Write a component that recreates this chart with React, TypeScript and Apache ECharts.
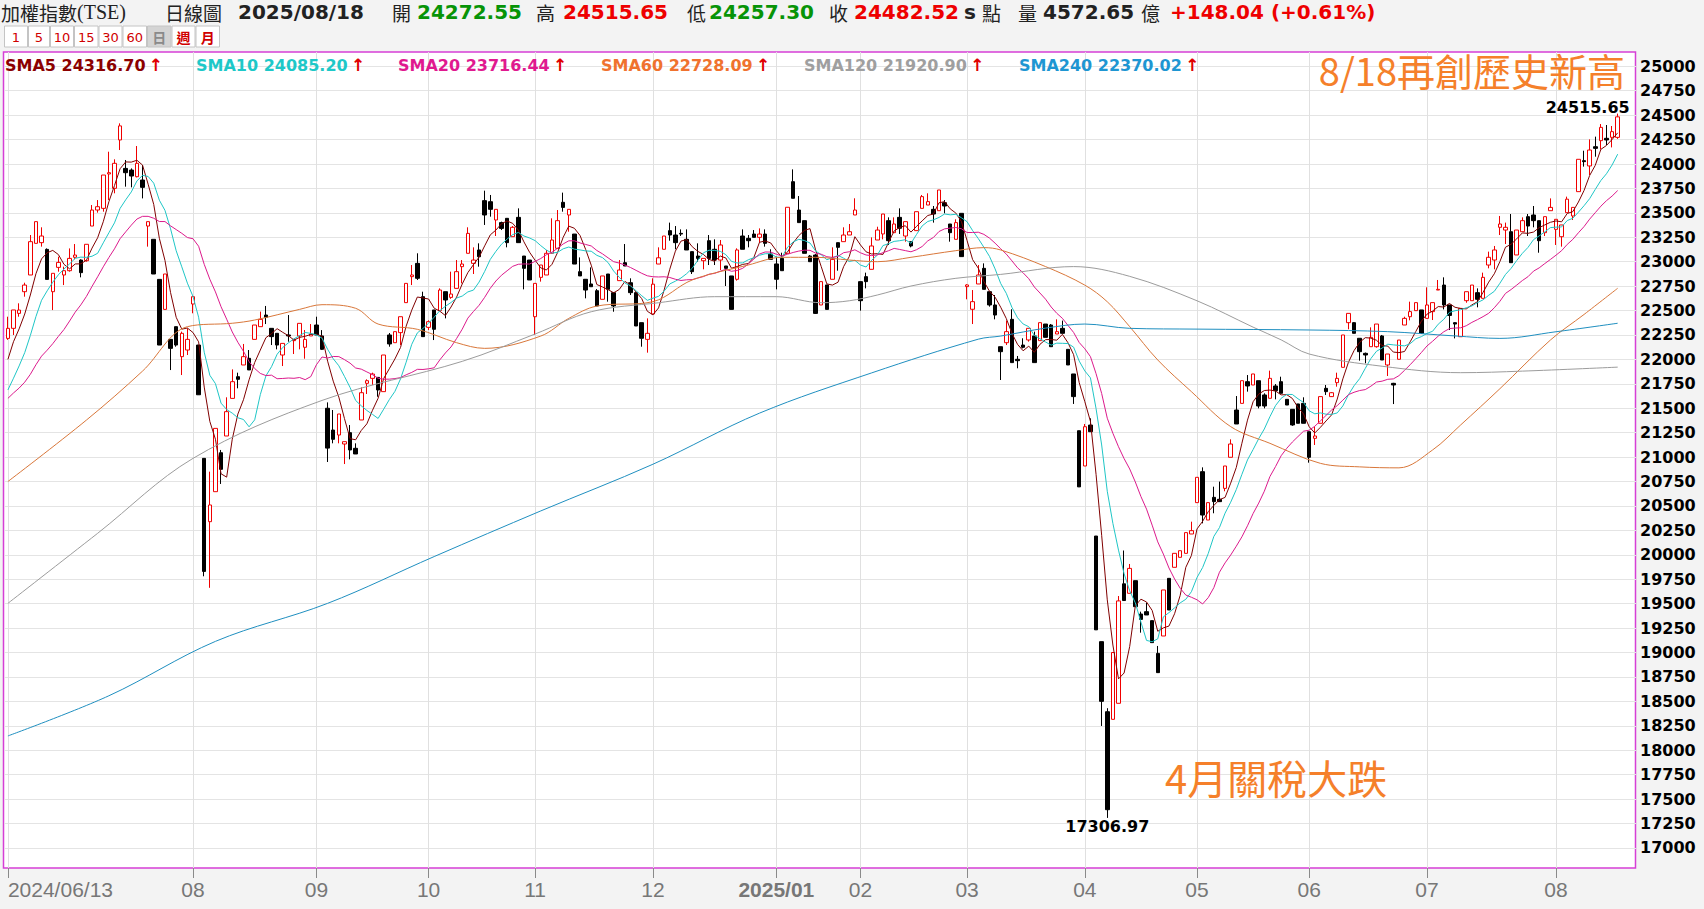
import React, { useEffect, useRef } from 'react';
import * as echarts from 'echarts';

// ---------- DATA ----------
const opens = [
  22215,22318,22471,22693,22864,23188,23195,23126,22693,22942,22864,22908,23045,23017,23010,23365,23529,23546,23898,23751,
  24246,23955,23938,23870,23836,23365,23229,22819,22512,22205,22335,22028,22096,22567,22147,20987,20339,20646,21045,21216,
  21601,21823,21943,22011,22205,22335,22454,22318,22267,22045,22250,22192,22240,22124,22240,22352,22240,21500,21277,21226,
  21134,21250,21090,21380,21755,21806,21816,21670,22250,22171,22274,22581,22847,22983,22642,22328,22506,22499,22693,22635,
  22727,22949,23086,22983,23120,23625,23614,23427,23400,23444,23256,23454,23058,23017,22437,22840,22864,23086,23137,23608,
  23478,23283,22898,22820,22772,22703,22615,22874,22683,22806,22990,22785,22683,22376,22205,22465,22976,23127,23318,23273,
  23290,23229,23103,23058,23010,23215,23127,23017,22956,22854,22820,23263,23239,23283,23249,23283,23079,22977,23034,23086,
  23819,23529,23420,23058,23068,22557,22762,22820,23195,23205,23273,23478,22796,22847,22922,23222,23284,23420,23297,23454,
  23263,23205,23318,23546,23580,23536,23522,23604,23386,23229,23495,22745,22513,22772,22932,22693,22557,22130,22171,22410,
  22001,22147,22199,22240,22192,22362,22352,22260,22318,22103,21851,21270,20909,21328,20192,19111,18394,18316,18480,19703,
  19606,19735,19394,19418,19326,18991,19169,19759,19872,19974,20015,20213,20534,20851,20356,20588,20568,20680,20998,21482,
  21550,21772,21738,21782,21636,21602,21728,21772,21591,21489,21544,21550,21260,21192,21346,21704,21619,21762,21919,22376,
  22376,22216,22062,22130,22130,22240,21943,21755,22001,22352,22437,22499,22506,22420,22489,22710,22761,22557,22376,22232,
  22601,22601,22683,22625,22966,23017,23352,23324,23307,23069,23307,23461,23478,23420,23297,23522,23331,23256,23502,23468,
  23717,24034,23980,24177,24239,24263,24273,24272.55
];
const highs = [
  22437,22506,22574,22785,23273,23410,23352,23136,22881,23051,22949,23136,23181,23024,23178,23580,23631,23887,24126,24048,
  24416,24041,23955,24184,23990,23410,23229,22819,22874,22205,22335,22284,22318,22642,22147,20987,20851,21294,21073,21612,
  21898,21864,22158,22096,22352,22489,22547,22318,22267,22164,22454,22205,22369,22301,22362,22437,22300,21560,21482,21441,
  21158,21328,21141,21714,21796,21864,21816,22045,22270,22284,22437,22778,22966,23086,22693,22400,22506,22727,22693,22898,
  23017,23017,23352,23147,23188,23727,23683,23536,23410,23444,23365,23546,23058,23017,22778,22966,23120,23444,23529,23707,
  23536,23283,23044,22820,22942,22720,22854,22874,22683,23017,23181,22830,22683,22376,22420,22830,23147,23263,23400,23365,
  23331,23331,23103,23188,23034,23273,23229,23222,22956,22854,23137,23331,23273,23324,23341,23331,23127,23051,23092,23557,
  23945,23672,23420,23068,23078,22796,22762,23147,23195,23352,23386,23649,22796,22888,23249,23358,23488,23454,23454,23546,
  23410,23205,23512,23683,23700,23570,23734,23631,23386,23434,23495,22770,22710,22966,22983,22693,22659,22130,22397,22513,
  22035,22216,22318,22284,22376,22362,22362,22410,22397,22103,21851,21270,21339,21397,20192,19111,18430,19000,19578,20044,
  19906,19735,19418,19510,19326,19067,19640,19759,20015,20042,20227,20339,20793,20895,20534,20697,20749,20909,21182,21625,
  21782,21840,21851,21782,21653,21885,21748,21823,21591,21489,21544,21612,21260,21312,21619,21738,21665,21864,22250,22471,
  22380,22216,22070,22328,22362,22250,22055,21760,22198,22437,22591,22581,22506,22738,22581,22813,22840,22557,22380,22522,
  22693,22761,22727,22888,23103,23161,23468,23400,23488,23324,23454,23488,23570,23420,23461,23648,23434,23376,23666,23556,
  24048,24136,24252,24280,24409,24399,24389,24515.65
];
const lows = [
  22200,22250,22437,22642,22864,23188,23154,22819,22505,22898,22761,22898,23024,22840,23000,23365,23502,23512,23631,23700,
  24143,23768,23761,23863,23648,23154,22874,22147,22512,21891,22130,21840,22045,22472,21636,19780,19662,20646,20725,21216,
  21601,21704,21943,21892,22205,22335,22362,22147,22103,21932,22181,22055,22103,22007,22240,22250,22096,20950,21141,21141,
  20929,20977,21032,21380,21646,21738,21618,21670,22130,22171,22147,22581,22761,22813,22233,22300,22198,22499,22420,22620,
  22727,22778,23086,22874,22949,23376,23461,23263,23324,23147,23256,23195,22717,22813,22250,22796,22864,23086,23137,23512,
  23307,22976,22854,22625,22744,22547,22615,22591,22488,22806,22956,22659,22342,22130,22069,22465,22976,23127,23215,23127,
  23263,23120,22874,23000,22922,22966,22966,22915,22751,22512,22806,23127,23147,23249,23195,23154,23024,22717,22908,23086,
  23649,23400,23086,23000,22465,22557,22512,22820,22908,23205,23273,23478,22499,22727,22922,23222,23229,23171,23297,23284,
  23205,23147,23318,23546,23580,23400,23522,23495,23205,23229,23052,22615,22362,22772,22717,22540,22410,21789,22147,21967,
  21909,22113,22182,21967,22192,22226,22130,22260,22267,21943,21544,20695,20909,21260,19232,18248,17306.97,18316,18480,19530,
  19606,19469,19203,19384,19101,18794,19169,19435,19872,19974,20015,20213,20534,20322,20356,20425,20544,20650,20998,21339,
  21550,21670,21738,21499,21499,21602,21591,21653,21533,21320,21346,21346,20943,21124,21346,21636,21615,21721,21919,22308,
  22267,21987,21960,22130,22120,21994,21830,21543,22001,22352,22400,22499,22267,22420,22403,22710,22512,22301,22215,22232,
  22580,22601,22533,22625,22932,22922,23273,23181,22990,23069,23307,23263,23352,23092,23263,23522,23171,23154,23502,23427,
  23717,23973,23887,24075,24150,24194,24170,24257.30
];
const closes = [
  22318,22506,22505,22761,23205,23410,23263,22819,22881,22993,22908,23034,23068,22888,23178,23529,23563,23887,23911,24007,
  24390,23911,23877,24007,23761,23410,22874,22147,22874,22113,22147,22267,22205,22642,21638,19830,20510,21294,20875,21465,
  21772,21796,22028,21892,22352,22410,22431,22233,22147,22164,22240,22205,22369,22205,22260,22250,22103,21092,21182,21441,
  21158,21073,21032,21659,21782,21850,21687,22045,22158,22284,22437,22778,22864,22830,22233,22386,22308,22710,22608,22669,
  22898,22976,23290,23017,23051,23478,23536,23536,23341,23195,23352,23195,22932,22813,22778,22966,23086,23222,23420,23556,
  23536,22976,22854,22710,22744,22547,22854,22717,22547,22915,22956,22683,22342,22216,22267,22770,23040,23263,23273,23195,
  23283,23120,22898,23034,23034,23034,23017,23171,22932,22512,23120,23127,23215,23249,23283,23188,23024,22820,22908,23557,
  23649,23400,23086,23000,22471,22796,22512,23024,23147,23273,23307,23529,22601,22796,23161,23324,23488,23215,23386,23342,
  23410,23161,23512,23666,23615,23488,23734,23570,23297,23400,23052,22762,22591,22864,22717,22557,22454,22079,22284,21967,
  21987,22124,22318,21967,22376,22226,22130,22284,22267,21943,21619,20695,21311,21260,19232,18500,17391,19000,19528,19532,
  19861,19469,19339,19384,19101,18794,19640,19435,20015,20042,20227,20247,20793,20407,20534,20544,20544,20909,21134,21339,
  21782,21728,21851,21523,21523,21806,21680,21653,21533,21329,21346,21346,20998,21216,21619,21670,21659,21806,22250,22471,
  22267,22079,22045,22226,22362,21994,22055,21738,22198,22420,22489,22581,22267,22557,22581,22717,22557,22450,22362,22522,
  22693,22761,22615,22840,23045,23120,23386,23352,22990,23324,23420,23365,23420,23215,23461,23556,23434,23376,23640,23556,
  24048,24024,24143,24160,24375,24246,24331,24482.52
];
// closes of the 19 sessions before 2024/06/13 (estimated from where the SMA lines start)
const priorCloses = [
  21400,21500,21550,21600,21450,21500,21600,21550,21500,21500,
  21300,21250,21400,21450,21470,21600,21850,22000,22232
];
// market holidays inside the period (weekdays without trading)
const holidays = [
  '2024/07/24','2024/07/25','2024/09/17','2024/10/02','2024/10/03','2024/10/10','2024/10/31',
  '2025/01/01','2025/01/23','2025/01/24','2025/01/27','2025/01/28','2025/01/29','2025/01/30','2025/01/31',
  '2025/02/28','2025/04/03','2025/04/04','2025/05/01','2025/05/30'
];
// long moving averages: [session index, value]
const sma60Pts = [
  [0,20750],[14,21379],[24,21880],[32,22335],[40,22370],[44,22403],[52,22512],[56,22560],[62,22523],[66,22362],
  [73,22308],[80,22171],[85,22113],[95,22239],[100,22420],[105,22546],[115,22591],[122,22813],[132,22966],[138,23045],
  [144,23045],[150,23017],[155,23000],[161,23045],[169,23113],[174,23144],[177,23120],[185,22950],[192,22760],[196,22590],
  [200,22335],[205,21994],[211,21670],[218,21312],[225,21141],[234,20936],[241,20900],[248,20890],[254,21073],[259,21329],
  [266,21700],[275,22198],[281,22460],[287,22728.09]
];
const sma120Pts = [
  [0,19503],[16,20220],[33,20987],[56,21580],[81,21980],[94,22260],[104,22488],[116,22580],[126,22642],[137,22642],
  [145,22580],[150,22600],[155,22659],[161,22751],[169,22830],[177,22870],[190,22950],[200,22850],[212,22600],[222,22330],
  [227,22200],[232,22055],[245,21930],[259,21864],[270,21880],[287,21920.9]
];
const sma240Pts = [
  [0,18146],[18,18557],[37,19114],[57,19503],[76,19982],[95,20449],[115,20927],[134,21450],[154,21862],[173,22207],
  [177,22239],[185,22320],[192,22362],[200,22318],[212,22310],[232,22301],[246,22284],[258,22240],[266,22215],[276,22283],
  [287,22370.02]
];
const legendNames = ['SMA5','SMA10','SMA20','SMA60','SMA120','SMA240'];
const legendValues = ['24316.70','24085.20','23716.44','22728.09','21920.90','22370.02'];
const headerTexts = ['日線圖','2025/08/18','開','24272.55','高','24515.65','低','24257.30','收','24482.52','s','點','量','4572.65','億','+148.04 (+0.61%)'];
const titleMain = '加權指數';
const titleCode = '(TSE)';
const buttonLabels = ['1','5','10','15','30','60','日','週','月'];
const noteHigh = '8/18再創歷史新高';
const noteLow = '4月關稅大跌';

// ---------- helpers ----------
function buildDates(n: number): string[] {
  const out: string[] = [];
  const d = new Date(Date.UTC(2024, 5, 13));
  while (out.length < n) {
    const wd = d.getUTCDay();
    const s = `${d.getUTCFullYear()}/${String(d.getUTCMonth() + 1).padStart(2, '0')}/${String(d.getUTCDate()).padStart(2, '0')}`;
    if (wd !== 0 && wd !== 6 && holidays.indexOf(s) < 0) out.push(s);
    d.setUTCDate(d.getUTCDate() + 1);
  }
  return out;
}
function sma(n: number): (number | null)[] {
  const all = priorCloses.concat(closes);
  const off = priorCloses.length;
  return closes.map((_, i) => {
    const end = off + i;
    const start = end - n + 1;
    if (start < 0) return null;
    let s = 0;
    for (let k = start; k <= end; k++) s += all[k];
    return +(s / n).toFixed(2);
  });
}

const NUM = '"DejaVu Sans", Verdana, sans-serif';
const CJK = '"Noto Sans CJK TC", "Noto Sans CJK SC", sans-serif';
const NARROW = '"Liberation Sans Narrow", "Liberation Sans", Arial, sans-serif';

const smaColors = ['#800000', '#1fc6c6', '#dc1a8c', '#d9773a', '#9c9c9c', '#1f8fc0'];
const legendColors = ['#8b0000', '#1ec8c8', '#e0198f', '#f0722e', '#9f9f9f', '#1e96d2'];

export default function App() {
  const ref = useRef<HTMLDivElement>(null);
  useEffect(() => {
    if (!ref.current) return;
    const chart = echarts.init(ref.current, undefined, { renderer: 'svg' });
    const dates = buildDates(closes.length);
    const monthStart = dates.map((d, i) => i === 0 || (i > 20 && d.slice(0, 7) !== dates[i - 1].slice(0, 7)));
    const candleData = closes.map((c, i) => [opens[i], c, lows[i], highs[i]]);
    let hiIdx = 0, loIdx = 0;
    highs.forEach((h, i) => { if (h > highs[hiIdx]) hiIdx = i; });
    lows.forEach((l, i) => { if (l < lows[loIdx]) loIdx = i; });

    const GL = 5.1, GW = 1615.4;
    const legendX = [5, 196, 398, 601, 804, 1019];
    const headerX = [165, 238, 392, 417, 536, 563, 687, 709, 829, 854, 964, 982, 1018, 1043, 1141, 1170];
    const HY = 12;
    const headerStyle = (k: number) => {
      const t = headerTexts[k];
      const isNum = /[0-9s+]/.test(t[0]);
      let fill = '#222';
      if (k === 3 || k === 7) fill = '#079407';
      if (k === 5 || k === 9 || k === 15) fill = '#ee0000';
      return {
        text: t, fill,
        fontSize: isNum ? 20 : 19,
        fontWeight: isNum ? 'bold' : 'normal',
        fontFamily: isNum ? NUM : CJK,
        verticalAlign: 'middle', align: 'left',
      };
    };
    const btnEdges = [4.5, 28.5, 50.5, 74.5, 99, 123, 147.5, 172, 196, 220.5];

    const graphics: any[] = [];
    graphics.push({
      type: 'text', x: 1, y: HY, z: 10,
      style: {
        text: `{c|${titleMain}}{s|${titleCode}}`, verticalAlign: 'middle',
        rich: {
          c: { fontSize: 19, fontFamily: CJK, fill: '#222' },
          s: { fontSize: 20, fontFamily: '"Liberation Serif", serif', fill: '#222' },
        },
      },
    });
    headerTexts.forEach((_, k) => {
      graphics.push({ type: 'text', x: headerX[k], y: HY, z: 10, style: headerStyle(k) });
    });
    buttonLabels.forEach((b, k) => {
      const x0 = btnEdges[k], x1 = btnEdges[k + 1] - 1;
      const isDay = b === '日';
      graphics.push({
        type: 'rect', z: 10,
        shape: { x: x0, y: 26, width: x1 - x0, height: 21 },
        style: { fill: isDay ? '#d4d4d4' : '#ffffff', stroke: '#c4c4c4', lineWidth: 1 },
      });
      const cjk = /[^0-9]/.test(b);
      graphics.push({
        type: 'text', z: 11, x: (x0 + x1) / 2, y: 37,
        style: {
          text: b, align: 'center', verticalAlign: 'middle',
          fill: isDay ? '#8a8a8a' : '#d00000',
          fontSize: cjk ? 14 : 13, fontWeight: cjk ? 'bold' : 'normal',
          fontFamily: cjk ? CJK : NUM,
        },
      });
    });
    legendNames.forEach((nm, k) => {
      graphics.push({
        type: 'text', x: legendX[k], y: 65, z: 10,
        style: {
          text: `{t|${nm} ${legendValues[k]}} {u|↑}`, verticalAlign: 'middle',
          rich: {
            t: { fill: legendColors[k], fontSize: 16, fontWeight: 'bold', fontFamily: NUM },
            u: { fill: '#e00000', fontSize: 17, fontWeight: 'bold', fontFamily: NUM },
          },
        },
      });
    });
    graphics.push({
      type: 'text', x: 1625, y: 69, z: 10,
      style: { text: noteHigh, align: 'right', verticalAlign: 'middle', fill: '#f5802a', fontSize: 38, fontFamily: CJK },
    });
    graphics.push({
      type: 'text', x: 1165, y: 777, z: 10,
      style: { text: noteLow, align: 'left', verticalAlign: 'middle', fill: '#f5802a', fontSize: 40, fontFamily: CJK },
    });

    const option: any = {
      animation: false,
      backgroundColor: '#f3f3f3',
      grid: [
        { left: 3.5, width: 1632, top: 52, height: 816, show: true, backgroundColor: '#ffffff', borderColor: '#d63fd6', borderWidth: 1.5 },
        { left: GL, width: GW, top: 52, height: 816 },
        { left: GL, width: GW, top: 66.3, height: 781.6 },
        { left: 4, width: 1632, top: 66.3, height: 781.6 },
      ],
      xAxis: [
        { type: 'value', gridIndex: 0, show: false },
        {
          type: 'category', gridIndex: 1, data: dates, boundaryGap: true,
          axisLine: { show: false },
          axisTick: { show: true, alignWithLabel: true, length: 10, interval: (i: number) => monthStart[i], lineStyle: { color: '#8a8a8a' } },
          splitLine: { show: true, alignWithLabel: true, interval: (i: number) => monthStart[i], lineStyle: { color: '#e0e0e0', width: 1 } },
          axisLabel: {
            interval: (i: number) => monthStart[i],
            alignMinLabel: 'left',
            margin: 11, color: '#777', fontSize: 21, fontFamily: NARROW,
            formatter: (v: string, i: number) => {
              if (i === 0) return v;
              const m = v.slice(5, 7);
              return m === '01' ? `{b|${v.slice(0, 7)}}` : m;
            },
            rich: { b: { fontWeight: 'bold', color: '#777', fontSize: 21, fontFamily: NARROW } },
          },
        },
        { type: 'category', gridIndex: 2, data: dates, boundaryGap: true, show: false },
        { type: 'value', gridIndex: 3, show: false },
      ],
      yAxis: [
        { type: 'value', gridIndex: 0, show: false },
        { type: 'value', gridIndex: 1, show: false },
        { type: 'value', gridIndex: 2, min: 17000, max: 25000, show: false },
        {
          type: 'value', gridIndex: 3, min: 17000, max: 25000, interval: 250, position: 'right',
          axisLine: { show: false }, axisTick: { show: false },
          axisLabel: { margin: 4, fontSize: 16, fontWeight: 'bold', color: '#000', fontFamily: NUM, formatter: (v: number) => String(v) },
          splitLine: { show: true, lineStyle: { color: '#e4e4e4', width: 1 } },
        },
      ],
      series: [
        {
          type: 'candlestick', xAxisIndex: 2, yAxisIndex: 2, barWidth: 4,
          data: candleData,
          itemStyle: { color: '#ffffff', color0: '#000000', borderColor: '#f00000', borderColor0: '#000000', borderWidth: 1 },
          markPoint: {
            symbol: 'circle', symbolSize: 1,
            itemStyle: { color: 'rgba(0,0,0,0)' },
            label: { show: true, fontSize: 16, fontWeight: 'bold', color: '#000', fontFamily: NUM, formatter: '{c}' },
            data: [
              { coord: [dates[hiIdx], highs[hiIdx]], value: highs[hiIdx].toFixed(2), label: { position: 'top', distance: 0, offset: [-30, 2] } },
              { coord: [dates[loIdx], lows[loIdx]], value: lows[loIdx].toFixed(2), label: { position: 'bottom', distance: 0 } },
            ],
          },
        },
        ...[5, 10, 20].map((n, k) => ({
          type: 'line', xAxisIndex: 2, yAxisIndex: 2, data: sma(n), showSymbol: false,
          lineStyle: { color: smaColors[k], width: 1 }, z: 3,
        })),
        ...[sma60Pts, sma120Pts, sma240Pts].map((pts, k) => ({
          type: 'line', xAxisIndex: 2, yAxisIndex: 2, data: pts, showSymbol: false, smooth: 0.35,
          lineStyle: { color: smaColors[k + 3], width: 1 }, z: 3,
        })),
      ],
      graphic: graphics,
    };
    chart.setOption(option);
    return () => chart.dispose();
  }, []);
  return <div ref={ref} style={{ position: 'fixed', left: 0, top: 0, width: 1704, height: 909 }} />;
}
